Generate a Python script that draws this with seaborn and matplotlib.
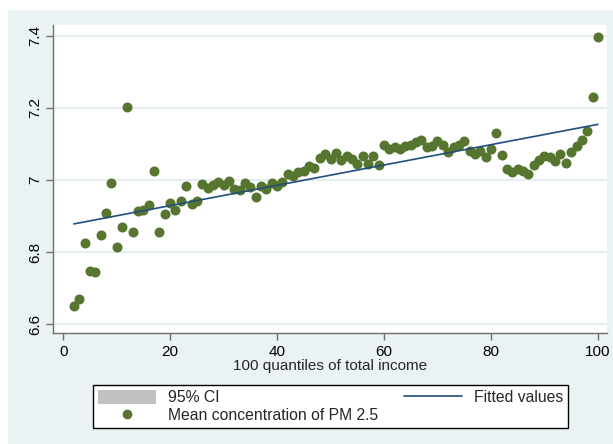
import numpy as np
import pandas as pd
import matplotlib
matplotlib.use("Agg")
import matplotlib.pyplot as plt
from matplotlib.patches import Patch, Rectangle
from matplotlib.lines import Line2D
import seaborn as sns

# Income quantile index and mean PM 2.5 concentration (log scale) per quantile
quantile = list(range(2, 101))
pm25 = [
    6.651, 6.668, 6.826, 6.748, 6.744, 6.848, 6.909, 6.991, 6.814, 6.868,
    7.202, 6.855, 6.915, 6.917, 6.929, 7.025, 6.856, 6.906, 6.937, 6.917,
    6.941, 6.983, 6.933, 6.942, 6.989, 6.978, 6.987, 6.993, 6.985, 6.998,
    6.975, 6.972, 6.992, 6.980, 6.952, 6.984, 6.976, 6.991, 6.984, 6.995,
    7.017, 7.012, 7.021, 7.024, 7.038, 7.033, 7.062, 7.071, 7.057, 7.074,
    7.056, 7.067, 7.058, 7.043, 7.065, 7.044, 7.065, 7.041, 7.098, 7.085,
    7.092, 7.086, 7.095, 7.098, 7.104, 7.112, 7.091, 7.095, 7.107, 7.096,
    7.078, 7.092, 7.096, 7.109, 7.081, 7.072, 7.081, 7.063, 7.087, 7.130,
    7.070, 7.029, 7.021, 7.029, 7.026, 7.017, 7.041, 7.054, 7.065, 7.063,
    7.052, 7.073, 7.046, 7.078, 7.095, 7.111, 7.136, 7.229, 7.396,
]
x_ticks = [0, 20, 40, 60, 80, 100]
y_ticks = [6.6, 6.8, 7.0, 7.2, 7.4]
y_tick_labels = ["6.6", "6.8", "7", "7.2", "7.4"]

x_label = "100 quantiles of total income"
legend_labels = ["95% CI", "Mean concentration of PM 2.5", "Fitted values"]

df = pd.DataFrame({"quantile": quantile, "pm25": pm25})

sns.set_theme(style="white")
plt.rcParams["font.family"] = ["Liberation Sans", "DejaVu Sans"]

point_color = "#56762f"
line_color = "#1f4f7a"
band_color = "#eaf2f3"
grid_color = "#e4eef0"

fig = plt.figure(figsize=(6.13, 4.44), dpi=100, facecolor="white")
fig.add_artist(Rectangle((8 / 613, 0), 1, 1 - 10 / 444, transform=fig.transFigure,
                         facecolor=band_color, edgecolor="none", zorder=-1))

ax = fig.add_axes([53 / 613, 1 - 333 / 444, (607 - 53) / 613, (333 - 25) / 444])
ax.set_facecolor("white")

sns.regplot(data=df, x="quantile", y="pm25", ax=ax, ci=None, truncate=True,
            scatter_kws=dict(s=52, color=point_color, linewidths=0, alpha=1, zorder=3),
            line_kws=dict(color=line_color, linewidth=1.2, zorder=4))

ax.set_xlim(-1.9, 101.7)
ax.set_ylim(6.575, 7.43)
ax.set_xticks(x_ticks)
ax.set_yticks(y_ticks)
ax.set_yticklabels(y_tick_labels)
ax.yaxis.grid(True, color=grid_color, linewidth=1.4, zorder=0)
ax.xaxis.grid(False)
ax.set_axisbelow(True)

for side in ["top", "right"]:
    ax.spines[side].set_visible(False)
for side in ["left", "bottom"]:
    ax.spines[side].set_color("#6e6e6e")
    ax.spines[side].set_linewidth(1.0)

ax.tick_params(axis="both", which="major", length=5, width=1.0, color="#6e6e6e",
               labelsize=11, labelcolor="black", left=True, bottom=True)
ax.tick_params(axis="y", labelrotation=90, pad=3)
for t in ax.get_yticklabels():
    t.set_va("center")

ax.set_xlabel(x_label, fontsize=11, labelpad=0)
ax.set_ylabel("")

handles = [
    Patch(facecolor="#c0c0c0", edgecolor="none"),
    Line2D([], [], marker="o", linestyle="none", color=point_color, markersize=6),
    Line2D([], [], color=line_color, linewidth=1.2),
]
leg = fig.legend(handles, legend_labels, loc="upper left", ncol=2, mode="expand",
                 bbox_to_anchor=(93 / 613, 1 - 430 / 444, (568 - 93) / 613, 45 / 444),
                 bbox_transform=fig.transFigure, fontsize=11.3, frameon=True,
                 fancybox=False, handlelength=3.7, handleheight=1.05, labelspacing=0.12,
                 handletextpad=0.75, borderpad=0.3, borderaxespad=0, numpoints=1)
frame = leg.get_frame()
frame.set_edgecolor("black")
frame.set_linewidth(1.0)
frame.set_facecolor("white")
frame.set_alpha(1)

fig.savefig("out.png", dpi=100)
